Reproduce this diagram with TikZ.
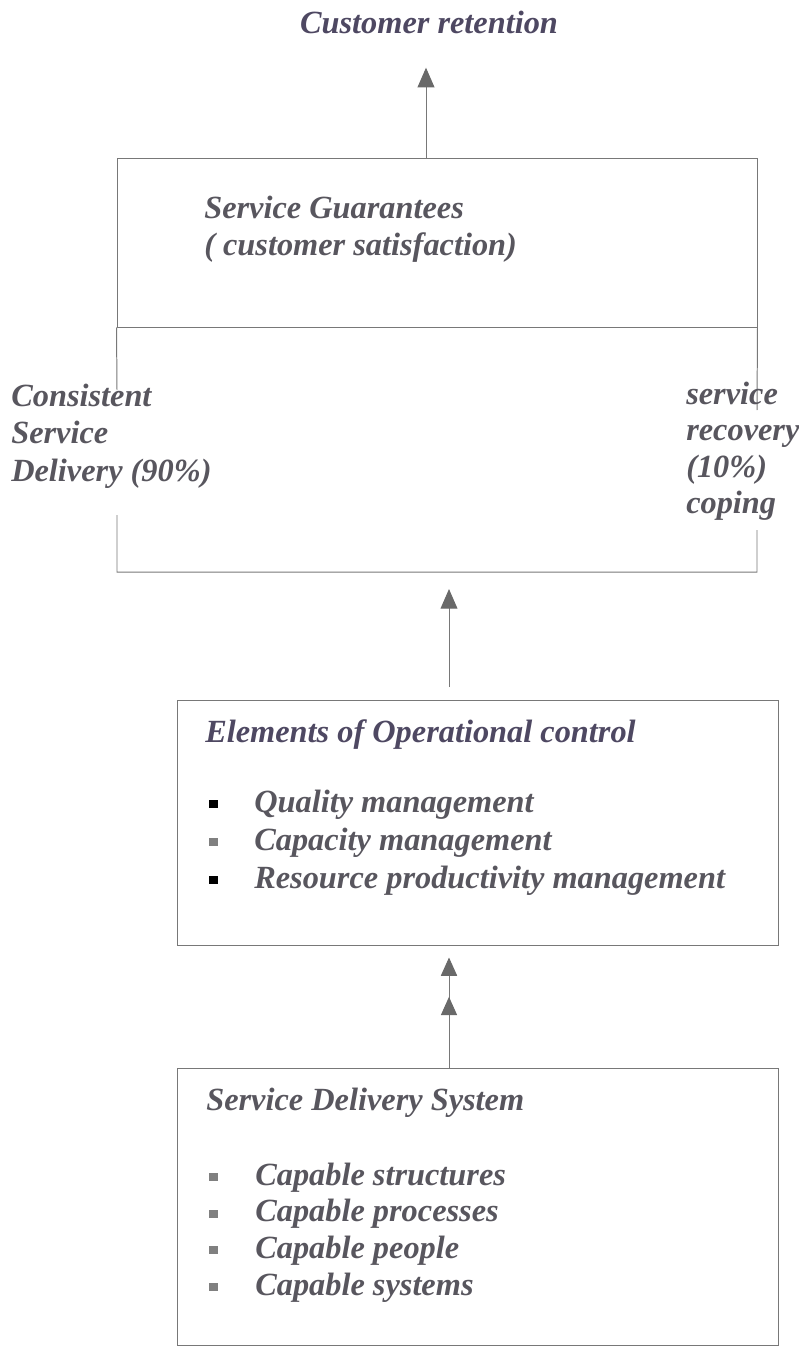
\documentclass[tikz,border=0pt]{standalone}
\usepackage{fontspec}
\setmainfont{Liberation Serif}
\usetikzlibrary{arrows.meta,fit}
\definecolor{textgray}{RGB}{88,86,94}
\definecolor{plumgray}{RGB}{78,72,98}
\definecolor{linegray}{RGB}{120,120,120}
\definecolor{headgray}{RGB}{105,105,105}
\tikzset{
  txt/.style={font=\fontsize{23}{26}\selectfont\bfseries\itshape, text=textgray, inner sep=0pt, anchor=base west},
  box/.style={draw=linegray, line width=0.7pt, inner sep=0pt},
  arr/.style={draw=linegray, line width=0.7pt, -{Triangle[width=12pt,length=14pt,color=headgray]}},
  darr/.style={draw=linegray, line width=0.7pt, -{Triangle[width=11.5pt,length=13pt,sep=15pt,color=headgray]Triangle[width=11.5pt,length=13pt,color=headgray]}},
  bull/.style={fill=#1, inner sep=0pt, minimum size=5.7pt}
}
\begin{document}
\begin{tikzpicture}[x=0.025cm,y=-0.025cm]
        \useasboundingbox (0,0) rectangle (799,1350);
        \node[txt, text=plumgray, anchor=base] (ret) at (429,33) {Customer retention};
        \node[box, fit={(117,158) (757,327)}] (guar) {};
        \node[txt] (sg1) at (204,218) {Service Guarantees};
        \node[txt] (sg2) at (204,255) {( customer satisfaction)};
        \coordinate (t) at (426,158);
        \draw[arr, shorten >=0.85cm] (t) -- (t |- ret.south);
        \coordinate (brl) at (117,572);
        \coordinate (brr) at (757,572);
        \draw[linegray, line width=0.7pt] (guar.south west) -- (117,390) (117,515) -- (brl) -- (brr) -- (757,530) (guar.south east) -- (757,410);
        \foreach \t [count=\i from 0] in {Consistent, Service, {Delivery (90\%)}}
        {\node[txt] (csd\i) at (11,{406+37.5*\i}) {\t};}
        \foreach \t [count=\i from 0] in {service, recovery, {(10\%)}, coping}
        {\node[txt] (rec\i) at (686,{404+36.5*\i}) {\t};}
        \node[box, fit={(177,700) (778,945)}] (ctrl) {};
        \node[txt, text=plumgray] (ctrlhd) at (205,742) {Elements of Operational control};
        \foreach \t/\c [count=\i from 0] in {Quality management/black, Capacity management/gray, Resource productivity management/black}
        {\node[bull=\c] (cb\i) at (213.5,{804+38*\i}) {};
         \node[txt] (ci\i) at (254,{812+38*\i}) {\t};}
        \coordinate (m) at (449,700);
        \draw[arr, shorten <=0.325cm, shorten >=0.425cm] (m) -- (m |- brl);
        \node[box, fit={(177,1068) (778,1345)}] (sds) {};
        \node[txt] (sdshd) at (206,1110) {Service Delivery System};
        \foreach \t [count=\i from 0] in {Capable structures, Capable processes, Capable people, Capable systems}
        {\node[bull=gray] (sb\i) at (213.5,{1177+36.7*\i}) {};
         \node[txt] (si\i) at (255,{1185+36.7*\i}) {\t};}
        \coordinate (n) at (449,1068);
        \draw[darr, shorten >=0.3cm] (n) -- (n |- ctrl.south);
    \end{tikzpicture}
\end{document}
